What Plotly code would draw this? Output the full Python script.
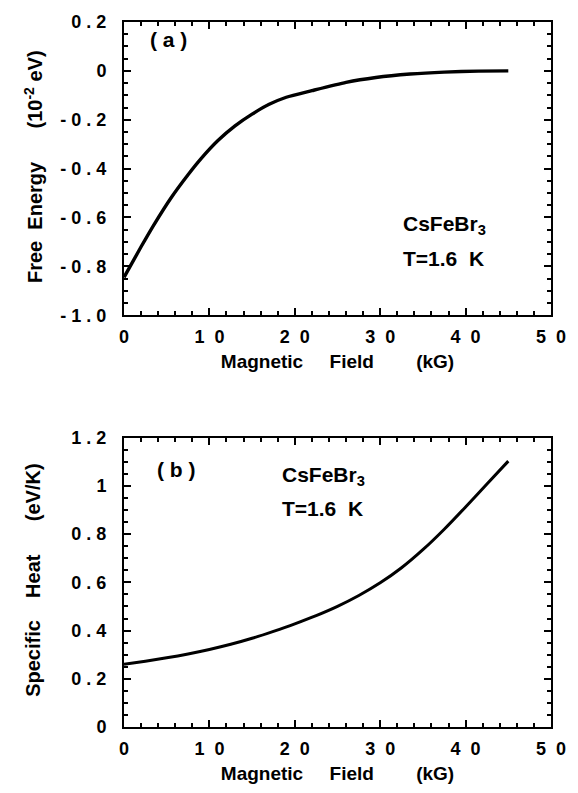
import plotly.graph_objects as go

# ---- data ----
field_a = [0, 2, 3.5, 5.5, 7.5, 9, 11, 13, 15, 17, 19, 22, 26, 29.5, 33.5, 37.5, 41.5, 45]
free_energy = [-0.845, -0.72, -0.63, -0.52, -0.425, -0.36, -0.285, -0.225, -0.177,
               -0.137, -0.108, -0.081, -0.047, -0.027, -0.013, -0.005, -0.001, 0.0]

field_b = [0, 2.5, 5, 7.5, 10, 12.5, 15, 17.5, 20, 22.5, 25, 27.5, 30, 32.5, 35, 37.5, 40, 42.5, 45]
specific_heat = [0.260, 0.273, 0.287, 0.303, 0.3215, 0.343, 0.368, 0.397, 0.428, 0.462,
                 0.5005, 0.5455, 0.598, 0.6605, 0.7355, 0.8205, 0.913, 1.008, 1.103]

x_tickvals = [0, 10, 20, 30, 40, 50]
x_ticktext = ["0", "1 0", "2 0", "3 0", "4 0", "5 0"]
ya_tickvals = [-1.0, -0.8, -0.6, -0.4, -0.2, 0.0, 0.2]
ya_ticktext = ["-1.0", "-0.8", "-0.6", "-0.4", "-0.2", "0", "0.2"]
yb_tickvals = [0, 0.2, 0.4, 0.6, 0.8, 1.0, 1.2]
yb_ticktext = ["0", "0.2", "0.4", "0.6", "0.8", "1", "1.2"]

NB = "\u00a0"

FONT = "Liberation Sans, Arial, Helvetica, sans-serif"
tickfont = dict(family=FONT, size=18, color="black", weight="bold")
xtitlefont = dict(family=FONT, size=19, color="black", weight="bold")
ytitlefont = dict(family=FONT, size=20, color="black", weight="bold")
annfont = dict(family=FONT, size=21, color="black", weight="bold")

fig = go.Figure()
fig.add_trace(go.Scatter(x=field_a, y=free_energy, mode="lines",
                         line=dict(color="black", width=3.4, shape="spline", smoothing=0.6),
                         xaxis="x", yaxis="y", showlegend=False))
fig.add_trace(go.Scatter(x=field_b, y=specific_heat, mode="lines",
                         line=dict(color="black", width=3.0, shape="spline", smoothing=0.8),
                         xaxis="x2", yaxis="y2", showlegend=False))

common_axis = dict(showline=True, linecolor="black", linewidth=2, mirror="ticks", ticks="inside",
                   ticklen=7, tickwidth=1.5, tickcolor="black", showgrid=False, zeroline=False,
                   tickfont=tickfont)

x_title = "Magnetic" + NB * 5 + "Field" + NB * 8 + "(kG)"
xticks_txt = [t.replace(" ", NB * 2) for t in x_ticktext]
ya_txt = [NB.join(list(t)) for t in ya_ticktext]
yb_txt = [NB.join(list(t)) for t in yb_ticktext]

xminor = dict(ticks="inside", dtick=2, ticklen=4, tickwidth=1.5, tickcolor="black", showgrid=False)
yminor = dict(ticks="inside", dtick=0.05, tick0=0, ticklen=4, tickwidth=1.5, tickcolor="black", showgrid=False)

fig.update_layout(
    width=578, height=793,
    margin=dict(l=124, r=25, t=13, b=61),
    paper_bgcolor="white", plot_bgcolor="white",
    xaxis=dict(common_axis, domain=[0, 1], range=[0, 50], anchor="y",
               tickvals=x_tickvals, ticktext=xticks_txt, minor=xminor,
               title=dict(text=x_title, font=xtitlefont, standoff=9), ticklabelstandoff=4),
    yaxis=dict(common_axis, domain=[0.5841, 1.0], range=[-1.0, 0.2], anchor="x",
               tickvals=ya_tickvals, ticktext=ya_txt, minor=yminor, ticklabelstandoff=12),
    xaxis2=dict(common_axis, domain=[0, 1], range=[0, 50], anchor="y2",
                tickvals=x_tickvals, ticktext=xticks_txt, minor=xminor,
                title=dict(text=x_title, font=xtitlefont, standoff=9), ticklabelstandoff=4),
    yaxis2=dict(common_axis, domain=[0.0, 0.4103], range=[0, 1.2], anchor="x2",
                tickvals=yb_tickvals, ticktext=yb_txt, minor=yminor, ticklabelstandoff=12),
)

# y-axis titles at a fixed horizontal position, as in the reference
ytitle_a = "Free" + NB * 2 + "Energy" + NB * 6 + "(10<sup>-2</sup>" + NB + "eV)"
ytitle_b = "Specific" + NB * 4 + "Heat" + NB * 6 + "(eV/K)"
fig.add_annotation(text=ytitle_a, textangle=-90, xref="paper", yref="paper", x=-0.212, y=0.795,
                   xanchor="center", yanchor="middle", showarrow=False, font=ytitlefont)
fig.add_annotation(text=ytitle_b, textangle=-90, xref="paper", yref="paper", x=-0.212, y=0.208,
                   xanchor="center", yanchor="middle", showarrow=False, font=ytitlefont)

anns = [
    dict(text="(" + NB + "a" + NB + ")", x=2.8, y=0.13, xref="x", yref="y"),
    dict(text="CsFeBr<sub>3</sub>", x=32.4, y=-0.63, xref="x", yref="y"),
    dict(text="T=1.6" + NB * 2 + "K", x=32.4, y=-0.767, xref="x", yref="y"),
    dict(text="(" + NB + "b" + NB + ")", x=3.6, y=1.07, xref="x2", yref="y2"),
    dict(text="CsFeBr<sub>3</sub>", x=18.3, y=1.04, xref="x2", yref="y2"),
    dict(text="T=1.6" + NB * 2 + "K", x=18.3, y=0.905, xref="x2", yref="y2"),
]
for a in anns:
    fig.add_annotation(showarrow=False, xanchor="left", yanchor="middle", font=annfont, **a)

fig.write_html("out.html")
